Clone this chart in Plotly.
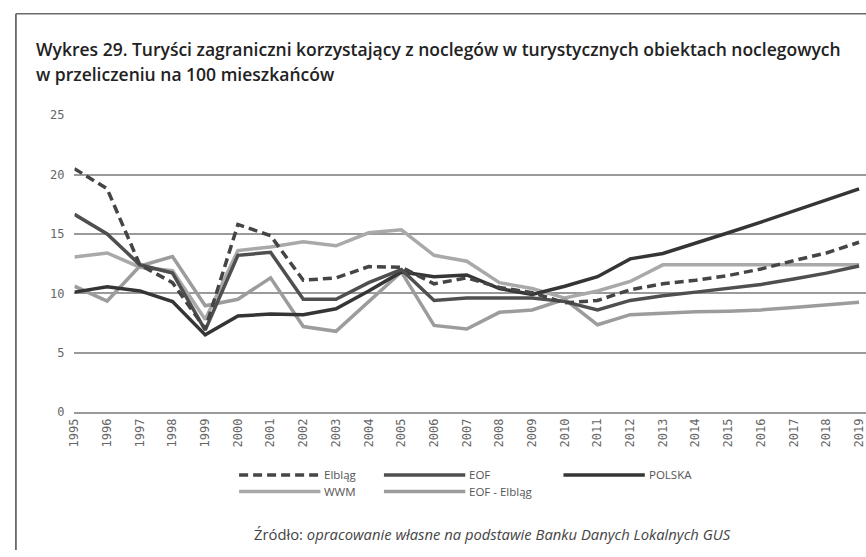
import plotly.graph_objects as go

# Years on the category axis
years = list(range(1995, 2020))
year_labels = [str(y) for y in years]

# Foreign tourists per 100 inhabitants
elblag = [20.5, 18.8, 12.4, 10.9, 7.0, 15.8, 14.85, 11.1, 11.3, 12.25, 12.2, 10.8, 11.3,
          10.5, 10.05, 9.2, 9.4, 10.3, 10.8, 11.1, 11.5, 12.05, 12.75, 13.4, 14.3]
eof = [16.65, 15.0, 12.4, 11.7, 6.9, 13.2, 13.45, 9.5, 9.5, 10.9, 12.0, 9.4, 9.6,
       9.6, 9.6, 9.3, 8.6, 9.4, 9.8, 10.1, 10.4, 10.75, 11.2, 11.7, 12.3]
polska = [10.1, 10.55, 10.2, 9.3, 6.5, 8.1, 8.25, 8.2, 8.7, 10.2, 11.8, 11.4, 11.55,
          10.4, 9.9, 10.6, 11.4, 12.9, 13.35, 14.2, 15.1, 16.0, 16.95, 17.9, 18.8]
wwm = [13.05, 13.4, 12.2, 11.9, 7.8, 13.6, 13.9, 14.35, 14.0, 15.1, 15.35, 13.2, 12.7,
       10.9, 10.4, 9.6, 10.2, 11.0, 12.4, 12.4, 12.4, 12.4, 12.4, 12.4, 12.4]
eof_elblag = [10.6, 9.35, 12.3, 13.1, 8.95, 9.5, 11.3, 7.2, 6.8, 9.3, 11.8, 7.3, 7.0,
              8.4, 8.6, 9.5, 7.35, 8.2, 8.35, 8.45, 8.5, 8.6, 8.8, 9.0, 9.25]

y_ticks = [0, 5, 10, 15, 20, 25]

W, H = 866, 557

series = [
    ("WWM", wwm, "#a9a9a9", "solid"),
    ("EOF - Elbląg", eof_elblag, "#9c9c9c", "solid"),
    ("POLSKA", polska, "#353535", "solid"),
    ("EOF", eof, "#4f4f4f", "solid"),
    ("Elbląg", elblag, "#454545", "9px,5px"),
]

fig = go.Figure()
for name, vals, color, dash in series:
    fig.add_trace(go.Scatter(
        x=years, y=vals, name=name, mode="lines",
        line=dict(color=color, width=3.5, dash=dash),
        showlegend=False,
    ))

def px_x(p):
    return p / W

def px_y(p):
    return 1 - p / H

# plot area in pixels; first year sits on the left edge, last year near the right edge
plot_left, plot_top, plot_bottom = 68.0, 111.0, 415.5
last_year_px = 859.0
year_px = (last_year_px - plot_left) / (years[-1] - years[0])

fig.update_layout(
    width=W, height=H,
    margin=dict(l=0, r=0, t=0, b=0),
    paper_bgcolor="white", plot_bgcolor="white",
    showlegend=False,
    xaxis=dict(
        domain=[px_x(plot_left), 1],
        range=[years[0], years[0] + (W - plot_left) / year_px],
        tickmode="array", tickvals=years, ticktext=year_labels,
        tickangle=-90,
        tickfont=dict(family="DejaVu Sans Mono", size=12, color="#666666"),
        showgrid=False, zeroline=False,
        showline=True, linecolor="#9a9a9a", linewidth=1.5,
        ticks="", ticklen=0,
    ),
    yaxis=dict(
        domain=[px_y(plot_bottom), px_y(plot_top)],
        range=[0, 25],
        tickmode="array", tickvals=y_ticks,
        tickfont=dict(family="DejaVu Sans Mono", size=12, color="#666666"),
        ticklabelstandoff=9,
        showgrid=True, gridcolor="#9a9a9a", gridwidth=1.5,
        zeroline=False, showline=False, ticks="",
    ),
)

shapes = [
    # outer frame (left and top edges)
    dict(type="line", xref="paper", yref="paper", x0=px_x(9), x1=px_x(9),
         y0=px_y(7), y1=0, line=dict(color="#4a4a4a", width=1.5)),
    dict(type="line", xref="paper", yref="paper", x0=px_x(9), x1=1,
         y0=px_y(7), y1=px_y(7), line=dict(color="#6a6a6a", width=1.5)),
]

title_font = dict(family="Open Sans", size=17.5, color="#222222", weight=600)
annotations = [
    dict(text="Wykres 29. Turyści zagraniczni korzystający z noclegów w turystycznych obiektach noclegowych",
         xref="paper", yref="paper", x=px_x(27), y=px_y(43), xanchor="left", yanchor="middle",
         showarrow=False, font=title_font),
    dict(text="w przeliczeniu na 100 mieszkańców",
         xref="paper", yref="paper", x=px_x(27), y=px_y(69), xanchor="left", yanchor="middle",
         showarrow=False, font=title_font),
    dict(text="Źródło: <i>opracowanie własne na podstawie Banku Danych Lokalnych GUS</i>",
         xref="paper", yref="paper", x=px_x(489), y=px_y(541), xanchor="center", yanchor="middle",
         showarrow=False, font=dict(family="Open Sans", size=14.8, color="#444444")),
]

# legend: line sample followed by its label
legend_items = [
    ("Elbląg", "#454545", "9px,5px", 234, 480),
    ("EOF", "#4f4f4f", "solid", 380, 480),
    ("POLSKA", "#353535", "solid", 561, 480),
    ("WWM", "#a9a9a9", "solid", 234, 497),
    ("EOF - Elbląg", "#9c9c9c", "solid", 380, 497),
]
for name, color, dash, x0, yc in legend_items:
    shapes.append(dict(type="line", xref="paper", yref="paper",
                       x0=px_x(x0), x1=px_x(x0 + 82), y0=px_y(yc), y1=px_y(yc),
                       line=dict(color=color, width=3.5, dash=dash)))
    annotations.append(dict(text=name, xref="paper", yref="paper",
                            x=px_x(x0 + 84), y=px_y(yc), xanchor="left", yanchor="middle",
                            showarrow=False,
                            font=dict(family="Open Sans", size=11.5, color="#555555")))

fig.update_layout(shapes=shapes, annotations=annotations)

fig.write_html("out.html")
